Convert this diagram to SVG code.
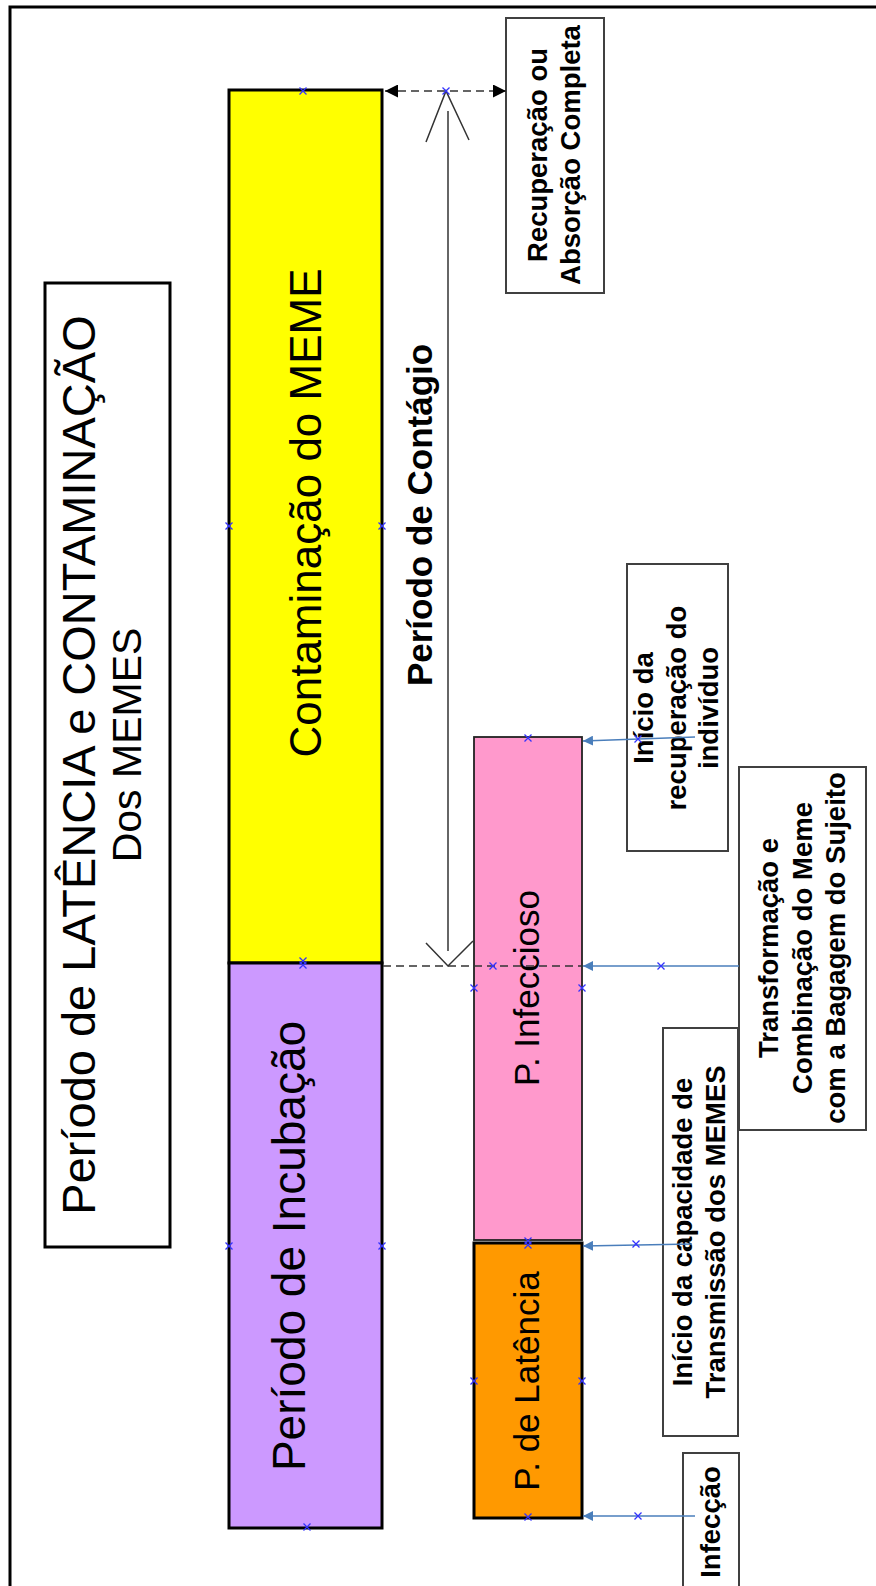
<svg xmlns="http://www.w3.org/2000/svg" width="876" height="1586" viewBox="0 0 876 1586">
<style>
.big{font-family:"Liberation Sans",Arial,sans-serif;fill:#000}
.bold{font-family:"Liberation Sans",Arial,sans-serif;font-weight:bold;fill:#000}
.lbl{fill:#fff;stroke:#404040;stroke-width:2}
.blue{stroke:#4A7EBB;stroke-width:1.6;fill:none}
.dash{stroke:#333;stroke-width:1.6;stroke-dasharray:8 5;fill:none}
.thin{stroke:#333;stroke-width:1.5;fill:none}
.x{stroke:#3333FF;stroke-width:1.3;fill:none}
</style>
<defs>
<marker id="ab" viewBox="0 0 10 10" refX="10" refY="5" markerWidth="10" markerHeight="10" markerUnits="userSpaceOnUse" orient="auto"><path d="M0,0 L10,5 L0,10 z" fill="#4A7EBB"/></marker>
<marker id="ak" viewBox="0 0 12 12" refX="12" refY="6" markerWidth="13" markerHeight="13" markerUnits="userSpaceOnUse" orient="auto"><path d="M0,0 L12,6 L0,12 z" fill="#000"/></marker>
<marker id="aks" viewBox="0 0 12 12" refX="0" refY="6" markerWidth="13" markerHeight="13" markerUnits="userSpaceOnUse" orient="auto"><path d="M12,0 L0,6 L12,12 z" fill="#000"/></marker>
<path id="cx" d="M-3.5,-3.5 L3.5,3.5 M-3.5,3.5 L3.5,-3.5"/>
</defs>
<rect x="0" y="0" width="876" height="1586" fill="#fff"/>
<rect x="10" y="7" width="900" height="1620" fill="none" stroke="#000" stroke-width="3"/>

<g id="title">
<rect x="45" y="283" width="125" height="964" fill="#fff" stroke="#000" stroke-width="3"/>
<text class="big" font-size="47" text-anchor="middle" transform="translate(95,765) rotate(-90)">Período de LATÊNCIA e CONTAMINAÇÃO</text>
<text class="big" font-size="41" text-anchor="middle" transform="translate(141,745) rotate(-90)">Dos MEMES</text>
</g>

<g id="contaminacao">
<rect x="229" y="90" width="153" height="873" fill="#FFFF00" stroke="#000" stroke-width="3"/>
<text class="big" font-size="44" text-anchor="middle" transform="translate(321,513) rotate(-90)">Contaminação do MEME</text>
</g>

<g id="incubacao">
<rect x="229" y="963" width="153" height="565" fill="#CC99FF" stroke="#000" stroke-width="3"/>
<text class="big" font-size="46" text-anchor="middle" transform="translate(305,1246) rotate(-90)">Período de Incubação</text>
</g>

<g id="infeccioso">
<rect x="474" y="737" width="108" height="503" fill="#FF99CC" stroke="#222" stroke-width="1.8"/>
<text class="big" font-size="35" text-anchor="middle" transform="translate(539,988) rotate(-90)">P. Infeccioso</text>
</g>

<g id="latencia">
<rect x="474" y="1243" width="108" height="275" fill="#FF9900" stroke="#000" stroke-width="3"/>
<text class="big" font-size="35" text-anchor="middle" transform="translate(539,1381) rotate(-90)">P. de Latência</text>
</g>

<g id="recuperacao">
<rect class="lbl" x="506" y="18" width="98" height="275"/>
<text class="bold" font-size="27.5" text-anchor="middle" transform="translate(547,155) rotate(-90)">Recuperação ou</text>
<text class="bold" font-size="27.5" text-anchor="middle" transform="translate(580,155) rotate(-90)">Absorção Completa</text>
</g>

<g id="inicio-recuperacao">
<rect class="lbl" x="627" y="564" width="101" height="287"/>
<text class="bold" font-size="27.5" text-anchor="middle" transform="translate(653,708) rotate(-90)">Início da</text>
<text class="bold" font-size="27.5" text-anchor="middle" transform="translate(685.5,708) rotate(-90)">recuperação do</text>
<text class="bold" font-size="27.5" text-anchor="middle" transform="translate(718,708) rotate(-90)">indivíduo</text>
</g>

<g id="transformacao">
<rect class="lbl" x="739" y="767" width="127" height="363"/>
<text class="bold" font-size="27.5" text-anchor="middle" transform="translate(778,948) rotate(-90)">Transformação e</text>
<text class="bold" font-size="27.5" text-anchor="middle" transform="translate(811.5,948) rotate(-90)">Combinação do Meme</text>
<text class="bold" font-size="27.5" text-anchor="middle" transform="translate(845,948) rotate(-90)">com a Bagagem do Sujeito</text>
</g>

<g id="inicio-capacidade">
<rect class="lbl" x="663" y="1028" width="75" height="408"/>
<text class="bold" font-size="27.5" text-anchor="middle" transform="translate(692,1232) rotate(-90)">Início da capacidade de</text>
<text class="bold" font-size="27.5" text-anchor="middle" transform="translate(725,1232) rotate(-90)">Transmissão dos MEMES</text>
</g>

<g id="infeccao">
<rect class="lbl" x="683" y="1453" width="56" height="160"/>
<text class="bold" font-size="27.5" text-anchor="middle" transform="translate(720,1522) rotate(-90)">Infecção</text>
</g>

<g id="connectors">
<line class="dash" x1="385" y1="91" x2="506" y2="91" marker-start="url(#aks)" marker-end="url(#ak)"/>
<line class="dash" x1="383" y1="966" x2="582" y2="966"/>
<line class="thin" x1="448" y1="111" x2="448" y2="951"/>
<polyline class="thin" points="426,142 446,91 469,140"/>
<polyline class="thin" points="426,943 448,966 473,941"/>
<text class="bold" font-size="35" text-anchor="middle" transform="translate(432,515) rotate(-90)">Período de Contágio</text>
<line class="blue" x1="695" y1="737" x2="583" y2="741" marker-end="url(#ab)"/>
<line class="blue" x1="739" y1="966" x2="583" y2="966" marker-end="url(#ab)"/>
<line class="blue" x1="692" y1="1244" x2="583" y2="1246" marker-end="url(#ab)"/>
<line class="blue" x1="695" y1="1516" x2="583" y2="1516" marker-end="url(#ab)"/>
</g>

<g id="points" class="x">
<use href="#cx" x="303" y="91"/>
<use href="#cx" x="446" y="91"/>
<use href="#cx" x="229" y="526"/>
<use href="#cx" x="382" y="526"/>
<use href="#cx" x="303" y="961"/>
<use href="#cx" x="303" y="965"/>
<use href="#cx" x="229" y="1246"/>
<use href="#cx" x="382" y="1246"/>
<use href="#cx" x="307" y="1527"/>
<use href="#cx" x="528" y="738"/>
<use href="#cx" x="493" y="966"/>
<use href="#cx" x="474" y="988"/>
<use href="#cx" x="582" y="988"/>
<use href="#cx" x="661" y="966"/>
<use href="#cx" x="638" y="739"/>
<use href="#cx" x="528" y="1241"/>
<use href="#cx" x="528" y="1245"/>
<use href="#cx" x="474" y="1381"/>
<use href="#cx" x="582" y="1381"/>
<use href="#cx" x="528" y="1517"/>
<use href="#cx" x="636" y="1244"/>
<use href="#cx" x="638" y="1516"/>
</g>
</svg>
